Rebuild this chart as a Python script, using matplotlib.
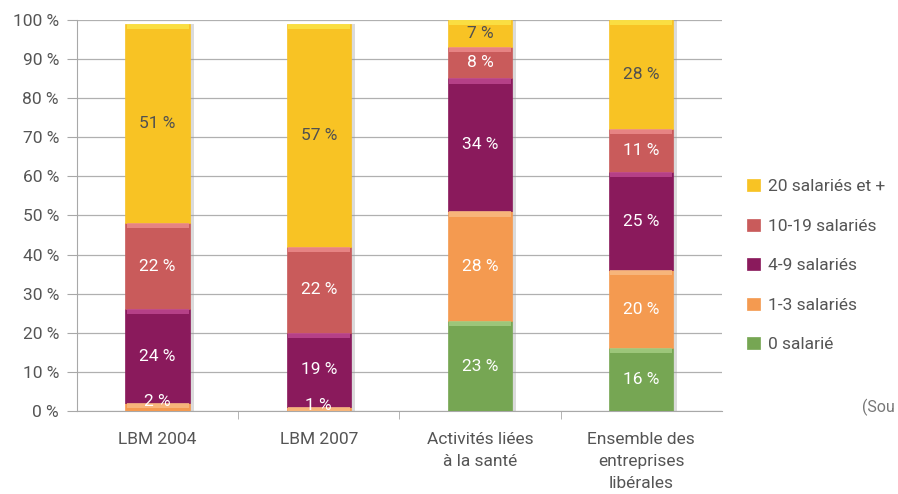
import matplotlib
matplotlib.use("Agg")
import matplotlib.pyplot as plt
import numpy as np

plt.rcParams['font.family'] = ['Roboto', 'DejaVu Sans']

# ── données ──
categories = ["LBM 2004", "LBM 2007", "Activités liées\nà la santé",
              "Ensemble des\nentreprises\nlibérales"]
series_names = ["0 salarié", "1-3 salariés", "4-9 salariés",
                "10-19 salariés", "20 salariés et +"]
s0 = [0, 0, 23, 16]
s1_3 = [2, 1, 28, 20]
s4_9 = [24, 19, 34, 25]
s10_19 = [22, 22, 8, 11]
s20 = [51, 57, 7, 28]

colors = ["#76A653", "#F49A50", "#8A1A5C", "#C95B5B", "#F8C324"]
tops = ["#A6CF85", "#F9BC85", "#C04A93", "#EE8E8E", "#FBE64A"]
label_colors = ["white", "white", "white", "white", "#505050"]

fig = plt.figure(figsize=(8.98, 4.94), dpi=100)
ax = fig.add_axes([0.0857, 0.168, 0.718, 0.792])

x = np.arange(len(categories))
width = 0.4
bottom = np.zeros(len(categories))
data = [s0, s1_3, s4_9, s10_19, s20]

for vals, col, topc, lc, name in zip(data, colors, tops, label_colors, series_names):
    vals = np.array(vals, dtype=float)
    # ombre à droite
    ax.bar(x + 0.025, vals, width, bottom=bottom, color="#9a9a9a", alpha=0.35,
           zorder=2, linewidth=0)
    ax.bar(x, vals, width, bottom=bottom, color=col, zorder=3,
           edgecolor=col, linewidth=0.5, label=name)
    # biseau clair en haut de chaque segment
    h = np.minimum(vals, 1.3)
    ax.bar(x, h, width * 0.96, bottom=bottom + vals - h, color=topc, zorder=4,
           linewidth=0, alpha=0.8)
    for xi, v, b in zip(x, vals, bottom):
        if v > 0:
            ypos = b + v / 2 if v >= 4 else b + v + 0.5
            ax.text(xi, ypos, f"{int(v)} %", ha="center", va="center",
                    color=lc, fontsize=12.5, zorder=6)
    bottom += vals

ax.set_xlim(-0.5, len(categories) - 0.5)
ax.set_ylim(0, 100)
ax.set_yticks(np.arange(0, 101, 10))
ax.set_yticklabels([f"{v} %" for v in range(0, 101, 10)])
ax.set_xticks(x)
ax.set_xticklabels(categories, linespacing=1.6)
ax.set_xticks(np.arange(0.5, len(categories) - 0.5, 1), minor=True)

ax.grid(axis="y", color="#b0b0b0", linewidth=0.9, zorder=0)
ax.set_axisbelow(True)
for side in ["top", "right"]:
    ax.spines[side].set_visible(False)
ax.spines["left"].set_color("#a8a8a8")
ax.spines["bottom"].set_color("#a8a8a8")
ax.tick_params(axis="y", colors="#a8a8a8", labelcolor="#555555", labelsize=12.5,
               length=7, pad=6)
ax.tick_params(axis="x", which="major", length=0, labelcolor="#555555",
               labelsize=12.5, pad=15)
ax.tick_params(axis="x", which="minor", length=6, color="#a8a8a8")

handles, labels = ax.get_legend_handles_labels()
leg = fig.legend(handles[::-1], labels[::-1], loc="center left",
                 bbox_to_anchor=(0.815, 0.462), frameon=False, fontsize=12.5,
                 handlelength=0.7, handleheight=0.7, labelspacing=1.4,
                 handletextpad=0.5)
for t in leg.get_texts():
    t.set_color("#555555")

fig.text(0.96, 0.176, "(Sou", fontsize=11.5, color="#777777",
         ha="left", va="center")

fig.savefig("out.png", dpi=100)
